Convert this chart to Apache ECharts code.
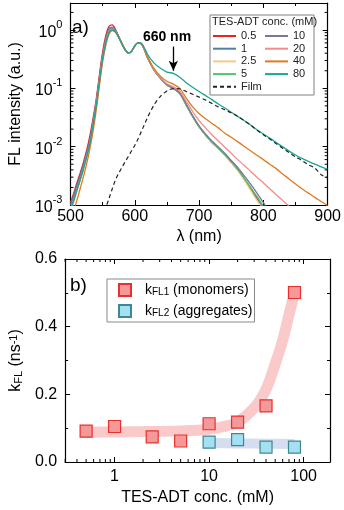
<!DOCTYPE html>
<html lang="en">
<head>
<meta charset="UTF-8">
<title>TES-ADT fluorescence</title>
<style>
  body { margin: 0; padding: 0; background: #fff; }
  #main { width: 344px; height: 510px; }
</style>
<script src="https://cdn.jsdelivr.net/npm/echarts@6/dist/echarts.min.js"></script>
</head>
<body>
<div id="main"></div>
<script>
// ---- panel a) spectra ----
var wl = [500,505,510,515,520,525,530,535,540,545,550,555,560,565,570,575,580,585,590,595,600,605,610,615,620,
          630,640,650,660,670,680,690,700,710,720,730,740,750,760,770,780,790,800,810,820,830,840,850,860,870,880,890,900];

var fl05 = [0.0011,0.0016,0.0024,0.0035,0.0053,0.0085,0.015,0.03,0.065,0.17,0.42,0.80,1.15,1.22,1.02,0.78,0.59,0.46,0.40,0.43,0.53,0.60,0.58,0.46,0.33,
            0.205,0.148,0.114,0.099,0.081,0.052,0.033,0.022,0.0158,0.0118,0.0093,0.0072,0.0054,0.0040,0.0028,0.0019,0.0013,0.0009,0.0006,null,null,null,null,null,null,null,null,null];
var fl1 = [0.001,0.0015,0.0022,0.0032,0.0049,0.0078,0.013,0.027,0.058,0.15,0.38,0.72,1.05,1.12,0.98,0.77,0.58,0.46,0.40,0.43,0.53,0.60,0.58,0.46,0.33,
           0.205,0.148,0.114,0.099,0.081,0.052,0.033,0.022,0.0158,0.0118,0.0093,0.0072,0.0055,0.0041,0.0029,0.002,0.00135,0.00092,0.0006,null,null,null,null,null,null,null,null,null];
var fl25 = [0.0007,0.0011,0.0017,0.0026,0.004,0.0064,0.011,0.022,0.05,0.13,0.32,0.60,0.90,1.02,0.93,0.75,0.57,0.45,0.40,0.43,0.53,0.60,0.58,0.46,0.335,
            0.208,0.15,0.115,0.099,0.082,0.052,0.033,0.022,0.0157,0.0117,0.0092,0.0071,0.0053,0.0039,0.0027,0.0018,0.0012,0.00085,0.00058,null,null,null,null,null,null,null,null,null];
var fl5 = [0.0008,0.0012,0.0018,0.0027,0.0041,0.0066,0.011,0.023,0.052,0.13,0.33,0.62,0.92,1.00,0.92,0.74,0.57,0.45,0.40,0.43,0.53,0.60,0.58,0.46,0.34,
           0.21,0.15,0.115,0.1,0.082,0.052,0.033,0.022,0.016,0.012,0.0094,0.0073,0.0055,0.0041,0.0029,0.002,0.0014,0.00095,0.00065,null,null,null,null,null,null,null,null,null];
var fl10 = [0.0009,0.0013,0.002,0.003,0.0045,0.0072,0.012,0.025,0.055,0.14,0.35,0.68,1.0,1.08,0.96,0.76,0.58,0.46,0.40,0.43,0.53,0.60,0.58,0.46,0.335,
            0.208,0.15,0.116,0.101,0.084,0.054,0.034,0.0228,0.0165,0.0125,0.0099,0.0077,0.0058,0.0044,0.0032,0.0023,0.0016,0.0011,0.00075,0.0005,null,null,null,null,null,null,null,null];
var fl20 = [0.0008,0.0012,0.0018,0.0027,0.0042,0.0067,0.011,0.023,0.052,0.135,0.34,0.64,0.95,1.04,0.94,0.75,0.575,0.455,0.40,0.43,0.53,0.60,0.585,0.47,0.34,
            0.212,0.153,0.12,0.106,0.089,0.06,0.04,0.028,0.021,0.016,0.0125,0.0098,0.0077,0.006,0.0048,0.0038,0.003,0.0024,0.0019,0.0015,0.0012,0.00095,0.00072,null,null,null,null,null];
var fl40 = [0.0005,0.0008,0.0012,0.0019,0.003,0.005,0.009,0.018,0.042,0.11,0.28,0.55,0.85,0.98,0.92,0.75,0.58,0.46,0.405,0.435,0.535,0.60,0.59,0.475,0.345,
            0.218,0.162,0.132,0.118,0.10,0.068,0.048,0.037,0.030,0.025,0.021,0.017,0.0145,0.0122,0.0102,0.0085,0.0071,0.006,0.005,0.0042,0.0034,0.0028,0.0023,0.0019,0.0016,0.00135,0.00115,0.00098];
var fl80 = [0.0008,0.0012,0.0018,0.0027,0.0041,0.0066,0.011,0.023,0.05,0.13,0.32,0.6,0.9,1.0,0.93,0.75,0.58,0.46,0.405,0.435,0.535,0.60,0.595,0.49,0.38,
            0.27,0.22,0.19,0.18,0.155,0.125,0.104,0.088,0.075,0.064,0.054,0.046,0.039,0.033,0.028,0.0235,0.0195,0.0165,0.014,0.0118,0.0099,0.0084,0.0072,0.0063,0.0056,0.005,0.0045,0.0041];
var film = [null,null,null,null,null,null,null,null,null,null,0.0006,0.0009,0.0013,0.0019,0.0027,0.0035,0.0044,0.0055,0.0068,0.0085,0.0105,0.0135,0.018,0.024,0.032,
            0.052,0.073,0.09,0.099,0.098,0.088,0.079,0.071,0.063,0.055,0.048,0.043,0.038,0.033,0.028,0.0235,0.0192,0.016,0.0135,0.0112,0.0094,0.0079,0.0067,0.0058,0.0049,0.0043,0.0033,0.0029];

var specNames = ['0.5','1','2.5','5','10','20','40','80'];
var specData = [fl05, fl1, fl25, fl5, fl10, fl20, fl40, fl80];
var specColors = ['#e8231f','#4f7fa6','#f5c98a','#4fc46a','#77779a','#f48a8a','#e07a1e','#1aa595'];

// ---- panel b) rate constants ----
var conc1 = [0.5, 1, 2.5, 5, 10, 20, 40, 80];
var kfl1 = [0.091, 0.105, 0.074, 0.062, 0.113, 0.118, 0.166, 0.501];
var conc2 = [10, 20, 40, 80];
var kfl2 = [0.059, 0.066, 0.044, 0.044];
var fitConc1 = [0.5, 1, 2, 5, 10, 15, 20, 30, 40, 50, 60, 70, 80];
var fitK1 = [0.088, 0.089, 0.09, 0.092, 0.097, 0.106, 0.118, 0.16, 0.215, 0.29, 0.36, 0.435, 0.50];
var fitConc2 = [10, 20, 40, 80];
var fitK2 = [0.056, 0.055, 0.054, 0.053];

function pairs(xs, ys) {
  var out = [];
  for (var i = 0; i < xs.length; i++) out.push([xs[i], ys[i]]);
  return out;
}

// log minor tick positions (2..9 per decade)
var yMinorA = [];
for (var p = -3; p <= 0; p++) for (var m = 2; m <= 9; m++) {
  var v = m * Math.pow(10, p);
  if (v < 2.9) yMinorA.push([700, v]);
}
var xMinorB = [];
for (var p2 = -1; p2 <= 2; p2++) for (var m2 = 2; m2 <= 9; m2++) {
  var v2 = m2 * Math.pow(10, p2);
  if (v2 > 0.3 && v2 < 190) xMinorB.push([v2, 0.3]);
}

var FONT = 'Liberation Sans, Arial, sans-serif';

function yMinorTicks(params, api) {
  var cs = params.coordSys;
  var y = api.coord([api.value(0), api.value(1)])[1];
  return { type: 'group', children: [
    { type: 'line', shape: { x1: cs.x, y1: y, x2: cs.x + 3, y2: y }, style: { stroke: '#000', lineWidth: 1 } },
    { type: 'line', shape: { x1: cs.x + cs.width, y1: y, x2: cs.x + cs.width - 3, y2: y }, style: { stroke: '#000', lineWidth: 1 } }
  ]};
}
function xMinorTicks(params, api) {
  var cs = params.coordSys;
  var x = api.coord([api.value(0), api.value(1)])[0];
  return { type: 'group', children: [
    { type: 'line', shape: { x1: x, y1: cs.y + cs.height, x2: x, y2: cs.y + cs.height - 3 }, style: { stroke: '#000', lineWidth: 1 } },
    { type: 'line', shape: { x1: x, y1: cs.y, x2: x, y2: cs.y + 3 }, style: { stroke: '#000', lineWidth: 1 } }
  ]};
}

var series = [];
for (var i = 0; i < specNames.length; i++) {
  series.push({
    name: specNames[i], type: 'line', xAxisIndex: 0, yAxisIndex: 0,
    data: pairs(wl, specData[i]), showSymbol: false, symbol: 'none', smooth: 0.3,
    lineStyle: { color: specColors[i], width: 1.3 }, itemStyle: { color: specColors[i] }, z: 2
  });
}
series.push({
  name: 'Film', type: 'line', xAxisIndex: 0, yAxisIndex: 0,
  data: pairs(wl, film), showSymbol: false, symbol: 'none', smooth: 0.3,
  lineStyle: { color: '#222', width: 1.2, type: [4, 3] }, itemStyle: { color: '#222' }, z: 3,
  markLine: {
    silent: true, symbol: ['none', 'arrow'], symbolSize: [7, 10],
    label: { show: false },
    lineStyle: { color: '#000', width: 1.3, type: 'solid' },
    data: [[{ coord: [660, 0.52] }, { coord: [660, 0.2] }]]
  }
});
series.push({ type: 'custom', coordinateSystem: 'cartesian2d', xAxisIndex: 0, yAxisIndex: 0,
  data: yMinorA, renderItem: yMinorTicks, silent: true, clip: false, z: 6 });

series.push({
  name: 'fit1', type: 'line', xAxisIndex: 2, yAxisIndex: 2, data: pairs(fitConc1, fitK1),
  showSymbol: false, symbol: 'none', smooth: 0.4, silent: true,
  lineStyle: { color: 'rgba(246,150,150,0.5)', width: 11, cap: 'butt' }, z: 1
});
series.push({
  name: 'fit2', type: 'line', xAxisIndex: 2, yAxisIndex: 2, data: pairs(fitConc2, fitK2),
  showSymbol: false, symbol: 'none', smooth: 0.4, silent: true,
  lineStyle: { color: 'rgba(170,190,225,0.5)', width: 10, cap: 'butt' }, z: 1
});
series.push({
  name: 'kFL1', type: 'scatter', xAxisIndex: 2, yAxisIndex: 2, data: pairs(conc1, kfl1),
  symbol: 'rect', symbolSize: 12,
  itemStyle: { color: '#f4999a', borderColor: '#e8302e', borderWidth: 1.2, opacity: 1 }, z: 4
});
series.push({
  name: 'kFL2', type: 'scatter', xAxisIndex: 2, yAxisIndex: 2, data: pairs(conc2, kfl2),
  symbol: 'rect', symbolSize: 12,
  itemStyle: { color: '#a3e0f0', borderColor: '#3f8796', borderWidth: 1.2, opacity: 1 }, z: 4
});
series.push({ type: 'custom', coordinateSystem: 'cartesian2d', xAxisIndex: 2, yAxisIndex: 2,
  data: xMinorB, renderItem: xMinorTicks, silent: true, clip: false, z: 6 });

var axisBase = {
  axisLine: { show: true, onZero: false, lineStyle: { color: '#000', width: 1.2 } },
  splitLine: { show: false }
};
function ax(extra) { return Object.assign({}, JSON.parse(JSON.stringify(axisBase)), extra); }

var supRich = {
  b: { fontSize: 16, fontFamily: FONT, color: '#000', padding: [5, 0, 0, 0] },
  s: { fontSize: 11, fontFamily: FONT, color: '#000', verticalAlign: 'top' }
};

var lineLegendText = { fontSize: 11, lineHeight: 12, color: '#222', fontFamily: FONT };

var chart = echarts.init(document.getElementById('main'), null, { renderer: 'canvas' });
chart.setOption({
  animation: false,
  textStyle: { fontFamily: FONT },
  grid: [
    { left: 59, right: 14, top: 3, bottom: 305 },
    { left: 59, right: 14, top: 259, bottom: 48 }
  ],
  xAxis: [
    ax({ gridIndex: 0, type: 'value', min: 500, max: 900, interval: 100, position: 'bottom',
      name: 'λ (nm)', nameLocation: 'middle', nameGap: 24,
      nameTextStyle: { fontSize: 16, color: '#000', fontFamily: FONT },
      axisTick: { show: true, inside: true, length: 5, lineStyle: { color: '#000' } },
      minorTick: { show: true, splitNumber: 2, length: 3, lineStyle: { color: '#000' } },
      axisLabel: { fontSize: 16, color: '#000', margin: 4, fontFamily: FONT } }),
    ax({ gridIndex: 0, type: 'value', min: 500, max: 900, interval: 100, position: 'top',
      axisTick: { show: true, inside: true, length: 5, lineStyle: { color: '#000' } },
      minorTick: { show: true, splitNumber: 2, length: 3, lineStyle: { color: '#000' } },
      axisLabel: { show: false } }),
    ax({ gridIndex: 1, type: 'log', logBase: 10, min: 0.3, max: 190, position: 'bottom',
      name: 'TES-ADT conc. (mM)', nameLocation: 'middle', nameGap: 28,
      nameTextStyle: { fontSize: 16, color: '#000', fontFamily: FONT },
      axisTick: { show: true, inside: true, length: 5, lineStyle: { color: '#000' } },
      axisLabel: { fontSize: 16, color: '#000', margin: 7, showMinLabel: false, showMaxLabel: false, fontFamily: FONT,
        formatter: function (v) { return String(Math.round(v)); } } }),
    ax({ gridIndex: 1, type: 'log', logBase: 10, min: 0.3, max: 190, position: 'top',
      axisTick: { show: true, inside: true, length: 5, lineStyle: { color: '#000' } },
      axisLabel: { show: false } })
  ],
  yAxis: [
    ax({ gridIndex: 0, type: 'log', logBase: 10, min: 0.001, max: 2.9, position: 'left',
      name: 'FL intensity (a.u.)', nameLocation: 'middle', nameGap: 40,
      nameTextStyle: { fontSize: 16, color: '#000', fontFamily: FONT },
      axisTick: { show: true, inside: true, length: 5, lineStyle: { color: '#000' } },
      axisLabel: { color: '#000', margin: 8, showMaxLabel: false, rich: supRich,
        formatter: function (v) { return '{b|10}{s|' + Math.round(Math.log10(v)) + '}'; } } }),
    ax({ gridIndex: 0, type: 'log', logBase: 10, min: 0.001, max: 2.9, position: 'right',
      axisTick: { show: true, inside: true, length: 5, lineStyle: { color: '#000' } },
      axisLabel: { show: false } }),
    ax({ gridIndex: 1, type: 'value', min: 0, max: 0.6, interval: 0.2, position: 'left',
      name: 'k{sub|FL} (ns{sup|-1})', nameLocation: 'middle', nameGap: 40,
      nameTextStyle: { fontSize: 16, color: '#000', fontFamily: FONT,
        rich: { sub: { fontSize: 11, fontFamily: FONT, color: '#000', verticalAlign: 'bottom' },
                sup: { fontSize: 11, fontFamily: FONT, color: '#000', verticalAlign: 'top' } } },
      axisTick: { show: true, inside: true, length: 5, lineStyle: { color: '#000' } },
      minorTick: { show: true, splitNumber: 2, length: 3, lineStyle: { color: '#000' } },
      axisLabel: { fontSize: 16, color: '#000', margin: 8, fontFamily: FONT,
        formatter: function (v) { return v.toFixed(1); } } }),
    ax({ gridIndex: 1, type: 'value', min: 0, max: 0.6, interval: 0.2, position: 'right',
      axisTick: { show: true, inside: true, length: 5, lineStyle: { color: '#000' } },
      minorTick: { show: true, splitNumber: 2, length: 3, lineStyle: { color: '#000' } },
      axisLabel: { show: false } })
  ],
  legend: [
    { data: ['0.5', '1', '2.5', '5', 'Film'], orient: 'vertical', left: 212, top: 30, padding: 0,
      itemWidth: 23, itemHeight: 12, itemGap: 0.7, z: 10,
      itemStyle: { opacity: 0 }, textStyle: lineLegendText },
    { data: ['10', '20', '40', '80'], orient: 'vertical', left: 264, top: 30, padding: 0,
      itemWidth: 23, itemHeight: 12, itemGap: 0.7, z: 10,
      itemStyle: { opacity: 0 }, textStyle: lineLegendText },
    { data: ['kFL1', 'kFL2'], orient: 'vertical', left: 107, top: 279, padding: [4, 2, 4, 11],
      borderColor: '#8a8a8a', borderWidth: 1, backgroundColor: '#fff',
      itemWidth: 12, itemHeight: 12, itemGap: 7, z: 10,
      formatter: function (n) {
        return n === 'kFL1' ? 'k{sub|FL1} (monomers)' : 'k{sub|FL2} (aggregates)';
      },
      textStyle: { fontSize: 14, color: '#000', fontFamily: FONT, padding: [0, 0, 0, 9],
        rich: { sub: { fontSize: 10, fontFamily: FONT, color: '#000', verticalAlign: 'bottom' } } } }
  ],
  graphic: [
    { type: 'rect', shape: { x: 210, y: 15, width: 104, height: 80 }, z: 8,
      style: { fill: '#fff', stroke: '#808080', lineWidth: 1 } },
    { type: 'text', x: 212, y: 16, z: 9,
      style: { text: 'TES-ADT conc. (mM)', fontSize: 11, fontFamily: FONT, fill: '#222' } },
    { type: 'text', x: 72, y: 18, z: 9,
      style: { text: 'a)', fontSize: 19, fontFamily: FONT, fill: '#000' } },
    { type: 'text', x: 70, y: 276, z: 9,
      style: { text: 'b)', fontSize: 19, fontFamily: FONT, fill: '#000' } },
    { type: 'text', x: 167, y: 37, z: 9,
      style: { text: '660 nm', fontSize: 14, fontWeight: 'bold', fontFamily: FONT, fill: '#000',
        align: 'center', verticalAlign: 'middle' } }
  ],
  series: series
});
</script>
</body>
</html>
